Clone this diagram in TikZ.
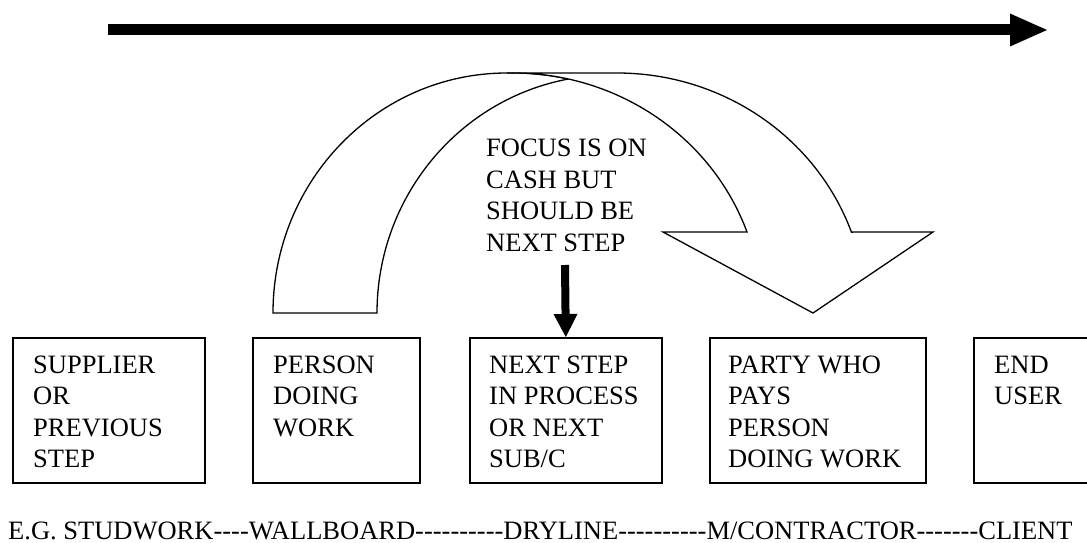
\documentclass[tikz,border=0pt]{standalone}
\usepackage{fontspec}
\setmainfont{Liberation Serif}
\usetikzlibrary{arrows.meta}
\newcommand\hh{-\kern0pt }
\begin{document}
\begin{tikzpicture}[x=1pt,y=-1pt,
  lbl/.style={anchor=north west, inner sep=0pt, align=left, font=\fontsize{26.5}{31.5}\selectfont},
  boxnode/.style={draw, line width=1.6pt, anchor=north west, minimum height=145pt, inner sep=0pt},
  band/.style={draw, fill=white, line width=1.3pt, line join=miter},
  bigarrow/.style={line width=11pt, -{Triangle[width=33pt,length=37pt,line width=0pt]}},
  smallarrow/.style={line width=8pt, -{Triangle[width=24pt,length=23pt,line width=0pt]}}]
\clip (0,0) rectangle (1087,543);
\fill[white] (0,0) rectangle (1087,543);

% top arrow
\coordinate (ta) at (108,30);
\coordinate (tb) at (1047,30);
\draw[bigarrow] (ta) -- (tb);

% curved arrow: back band
\draw[band] (273,313) -- (377,313)
  arc[start angle=180, end angle=100.6, x radius=234pt, y radius=238pt]
  -- (568.2,79)
  arc[start angle=77.2, end angle=90, x radius=249pt, y radius=240pt]
  -- (507,73)
  arc[start angle=90, end angle=180, x radius=234pt, y radius=240pt]
  -- cycle;
% curved arrow: front band with head
\draw[band] (507,73) -- (617,73)
  arc[start angle=90, end angle=19.7, x radius=249pt, y radius=240pt]
  -- (933,232) -- (813,313) -- (663,232) -- (747,232)
  arc[start angle=19.7, end angle=90, x radius=249pt, y radius=240pt]
  -- cycle;

% boxes
\node[boxnode, minimum width=192pt] (b1) at (12,337) {};
\node[boxnode, minimum width=167pt] (b2) at (252,337) {};
\node[boxnode, minimum width=192pt] (b3) at (469,337) {};
\node[boxnode, minimum width=216pt] (b4) at (709,337) {};
\node[boxnode, minimum width=160pt] (b5) at (973,337) {};

\node[lbl] (t1) at (33,355.5) {SUPPLIER\\OR\\PREVIOUS\\STEP};
\node[lbl] (t2) at (273,355.5) {PERSON\\DOING\\WORK};
\node[lbl] (t3) at (489,355.5) {NEXT STEP\\IN PROCESS\\OR NEXT\\SUB/C};
\node[lbl] (t4) at (728,355.5) {PARTY WHO\\PAYS\\PERSON\\DOING WORK};
\node[lbl] (t5) at (994,355.5) {END\\USER};

% focus text and arrow
\node[lbl] (focus) at (486,139) {FOCUS IS ON\\CASH BUT\\SHOULD BE\\NEXT STEP};
\coordinate (fs) at (565,265);
\draw[smallarrow] (fs) -- (b3.north);

% bottom line
\node[anchor=base west, inner sep=0pt, font=\fontsize{26.5}{31.5}\selectfont] (eg) at (8,539)
  {E.G. STUDWORK\hh\hh\hh\hh WALLBOARD\hh\hh\hh\hh\hh\hh\hh\hh\hh\hh DRYLINE\hh\hh\hh\hh\hh\hh\hh\hh\hh\hh M/CONTRACTOR\hh\hh\hh\hh\hh\hh\hh CLIENT};
\end{tikzpicture}
\end{document}
